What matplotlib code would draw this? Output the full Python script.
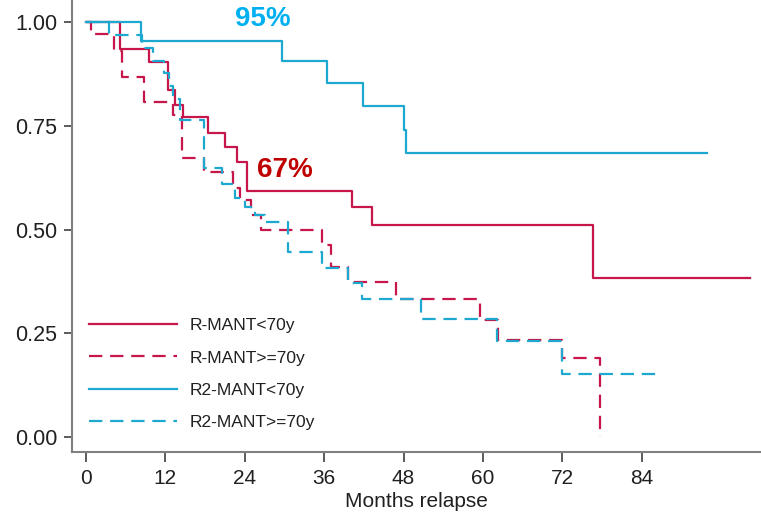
import matplotlib
matplotlib.use('Agg')
import matplotlib.pyplot as plt

# Kaplan-Meier steps: (month of drop, survival after drop), last entry = end of follow-up
r_young_t = [0, 5.1, 9.5, 12.4, 13.4, 14.7, 18.5, 21.0, 22.8, 24.3, 40.2, 43.3, 76.6, 100.3]
r_young_s = [1.0, 0.934, 0.903, 0.836, 0.80, 0.770, 0.733, 0.700, 0.663, 0.593, 0.555, 0.511, 0.384, 0.384]

r_old_t = [0, 0.8, 4.2, 5.5, 8.8, 13.2, 14.5, 17.8, 22.3, 23.3, 25.0, 26.5, 35.6, 37.1, 39.6,
           46.9, 59.5, 62.2, 72.0, 77.7]
r_old_s = [1.0, 0.97, 0.93, 0.868, 0.808, 0.775, 0.672, 0.638, 0.60, 0.57, 0.535, 0.50, 0.463,
           0.41, 0.374, 0.332, 0.283, 0.234, 0.19, 0.0]

r2_young_t = [0, 8.3, 29.6, 36.5, 41.9, 48.0, 48.4, 93.8]
r2_young_s = [1.0, 0.955, 0.905, 0.852, 0.798, 0.741, 0.684, 0.684]

r2_old_t = [0, 3.5, 8.5, 10.2, 11.8, 12.5, 13.2, 14.2, 17.8, 20.5, 22.5, 24.0, 25.5, 27.0,
            30.5, 35.6, 39.6, 41.7, 50.7, 62.1, 72.0, 86.3]
r2_old_s = [1.0, 0.969, 0.938, 0.907, 0.876, 0.845, 0.814, 0.764, 0.648, 0.61, 0.575, 0.555,
            0.535, 0.519, 0.447, 0.407, 0.371, 0.333, 0.284, 0.232, 0.151, 0.151]

labels = ['R-MANT<70y', 'R-MANT>=70y', 'R2-MANT<70y', 'R2-MANT>=70y']
xticks = [0, 12, 24, 36, 48, 60, 72, 84]
yticks = [0.0, 0.25, 0.5, 0.75, 1.0]

red = '#C6164A'
cyan = '#1DA8CF'
dash = (6, 3.5)
font = 'Liberation Sans'

fig = plt.figure(figsize=(7.61, 5.14), dpi=100)
ax = fig.add_axes([0.0946, 0.1206, 0.9054, 0.8794])

ax.step(r_young_t, r_young_s, where='post', color=red, lw=1.6, label=labels[0])
ax.step(r_old_t, r_old_s, where='post', color=red, lw=1.6, dashes=dash, label=labels[1])
ax.step(r2_young_t, r2_young_s, where='post', color=cyan, lw=1.6, label=labels[2])
ax.step(r2_old_t, r2_old_s, where='post', color=cyan, lw=1.6, dashes=dash, label=labels[3])

ax.text(26.7, 1.007, '95%', color='#00B0F0', fontsize=20, fontweight='bold',
        family=font, ha='center', va='center')
ax.text(30.0, 0.643, '67%', color='#C00000', fontsize=20, fontweight='bold',
        family=font, ha='center', va='center')

ax.set_xlim(-2.1, 102)
ax.set_ylim(-0.036, 1.053)
ax.set_xticks(xticks)
ax.set_yticks(yticks)
ax.set_yticklabels(['%.2f' % v for v in yticks])
for s in ['top', 'right']:
    ax.spines[s].set_visible(False)
for s in ['left', 'bottom']:
    ax.spines[s].set_color('#808080')
    ax.spines[s].set_linewidth(1.5)
ax.tick_params(axis='both', colors='#404040', width=1.2, length=6)
ax.tick_params(axis='y', pad=4.5, labelsize=15.5)
ax.tick_params(axis='x', length=7, pad=5, labelsize=15)
for lab in ax.get_xticklabels() + ax.get_yticklabels():
    lab.set_family(font)
    lab.set_color('#202020')
ax.set_xlabel('Months relapse', fontsize=15, family=font, color='#202020', labelpad=3)

leg = ax.legend(loc='lower left', bbox_to_anchor=(0.024, 0.049), frameon=False,
                prop={'family': font, 'size': 12.5}, handlelength=5.1,
                handletextpad=0.75, labelspacing=0.98, borderpad=0, borderaxespad=0)
for t in leg.get_texts():
    t.set_color('#202020')

fig.savefig('out.png', dpi=100)
